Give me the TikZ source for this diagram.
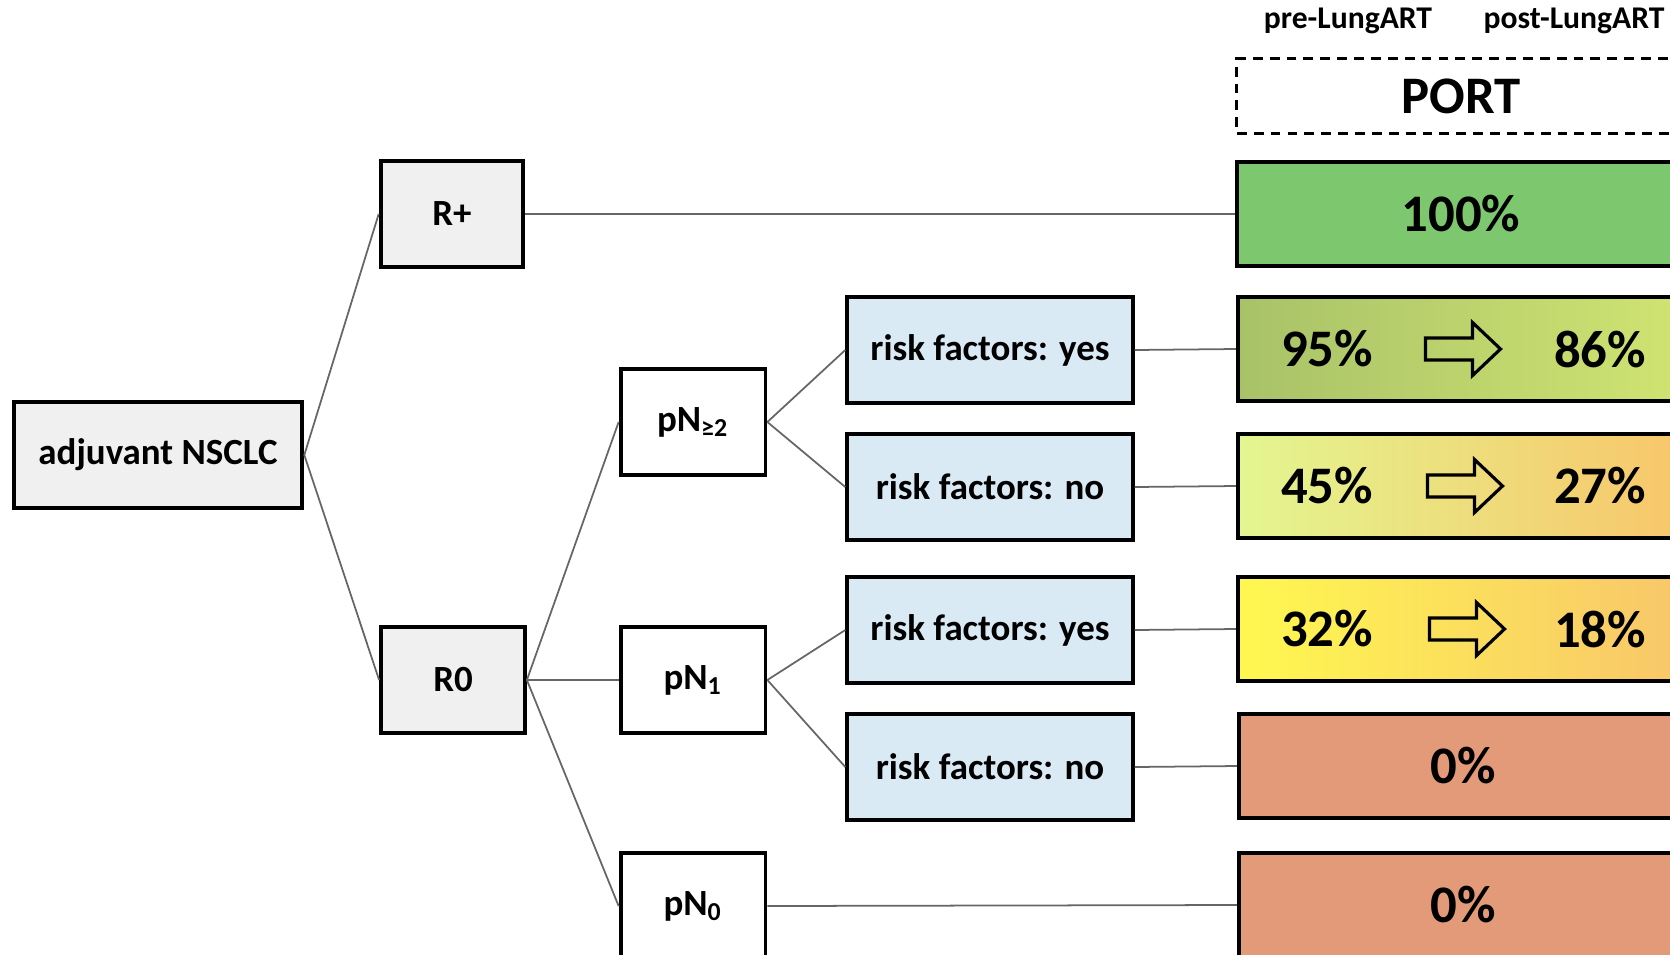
\documentclass[tikz,border=0pt]{standalone}
\usepackage{fontspec}
\setmainfont{Carlito}
\definecolor{boxgrey}{HTML}{F0F0F0}
\definecolor{riskblue}{HTML}{DAEAF5}
\definecolor{portgreen}{HTML}{7DC86E}
\definecolor{portsalmon}{HTML}{E39A78}
\definecolor{oliveA}{HTML}{A8C268}
\definecolor{oliveB}{HTML}{D0E472}
\definecolor{limeA}{HTML}{E3F690}
\definecolor{limeB}{HTML}{F0E886}
\definecolor{orangeA}{HTML}{F8C66A}
\definecolor{yellowA}{HTML}{FFF850}
\definecolor{yellowB}{HTML}{FDE36A}
\newcommand{\portarrow}[1]{\draw[line width=0.9pt, shift={(#1)}] (-37.5,-11) -- (9.5,-11) -- (9.5,-26.5) -- (37.5,0) -- (9.5,26.5) -- (9.5,11) -- (-37.5,11) -- cycle;}
\begin{document}
\begin{tikzpicture}[x=0.01cm,y=-0.01cm]
        \tikzstyle{box}=[draw=black, line width=1.1pt, inner sep=2pt, minimum height=1.055cm, font=\bfseries\fontsize{10.5}{12}\selectfont]
        \tikzstyle{greybox}=[box, fill=boxgrey]
        \tikzstyle{pnbox}=[box, fill=white, minimum width=1.448cm]
        \tikzstyle{riskbox}=[box, fill=riskblue, minimum width=2.854cm]
        \tikzstyle{portbox}=[draw=black, line width=1.1pt, minimum width=4.48cm, minimum height=1.045cm, font=\bfseries\fontsize{15}{17}\selectfont]
        \tikzstyle{pct}=[font=\bfseries\fontsize{15}{17}\selectfont]
        \tikzstyle{head}=[font=\bfseries\fontsize{9}{10}\selectfont]
        \tikzstyle{link}=[draw=black!60, line width=0.5pt]
        \useasboundingbox (0,0) rectangle (1670,954);
        \clip (0,0) rectangle (1670,954);
        % tree
        \node[greybox, minimum width=2.886cm] (adj) at (158,455) {adjuvant NSCLC};
        \node[greybox, minimum width=1.427cm] (rplus) at (452,214) {R+};
        \node[greybox, minimum width=1.438cm] (rzero) at (453,680) {R0};
        \node[pnbox] (pn2) at (693,422) {pN\textsubscript{≥2}};
        \node[pnbox] (pn1) at (693,680) {pN\textsubscript{1}};
        \node[pnbox] (pn0) at (693,906) {pN\textsubscript{0}};
        \node[riskbox] (rf1) at (990,350) {risk factors: yes};
        \node[riskbox] (rf2) at (990,487) {risk factors: no};
        \node[riskbox] (rf3) at (990,630) {risk factors: yes};
        \node[riskbox] (rf4) at (990,767) {risk factors: no};
        % PORT column
        \node[head] (pre) at (1348,21) {pre-LungART};
        \node[head] (post) at (1574,21) {post-LungART};
        \node[portbox, dashed, dash pattern=on 2.8pt off 2pt, line width=0.9pt, minimum height=0.745cm] (port) at (1461,96) {PORT};
        \node[portbox, fill=portgreen] (b100) at (1461,214) {100\%};
        \node[portbox, left color=oliveA, right color=oliveB] (b95) at (1462,349) {};
        \node[portbox, left color=limeA, middle color=limeB, right color=orangeA] (b45) at (1462,486) {};
        \node[portbox, left color=yellowA, middle color=yellowB, right color=orangeA] (b32) at (1462,629) {};
        \node[portbox, fill=portsalmon] (b0a) at (1463,766) {0\%};
        \node[portbox, fill=portsalmon] (b0b) at (1463,905) {0\%};
        \node[pct] (t95) at (1327,349) {95\%};
        \node[pct] (t86) at (1600,349) {86\%};
        \node[pct] (t45) at (1327,486) {45\%};
        \node[pct] (t27) at (1600,486) {27\%};
        \node[pct] (t32) at (1327,629) {32\%};
        \node[pct] (t18) at (1600,629) {18\%};
        \coordinate (a95) at (1463,349);
        \coordinate (a45) at (1465,486);
        \coordinate (a32) at (1467,629);
        \portarrow{a95}
        \portarrow{a45}
        \portarrow{a32}
        % connectors
        \draw[link] (adj.east) -- (rplus.west);
        \draw[link] (adj.east) -- (rzero.west);
        \draw[link] (rzero.east) -- (pn2.west);
        \draw[link] (rzero.east) -- (pn1.west);
        \draw[link] (rzero.east) -- (pn0.west);
        \draw[link] (pn2.east) -- (rf1.west);
        \draw[link] (pn2.east) -- (rf2.west);
        \draw[link] (pn1.east) -- (rf3.west);
        \draw[link] (pn1.east) -- (rf4.west);
        \draw[link] (rplus.east) -- (b100.west);
        \draw[link] (rf1.east) -- (b95.west);
        \draw[link] (rf2.east) -- (b45.west);
        \draw[link] (rf3.east) -- (b32.west);
        \draw[link] (rf4.east) -- (b0a.west);
        \draw[link] (pn0.east) -- (b0b.west);
    \end{tikzpicture}
\end{document}
